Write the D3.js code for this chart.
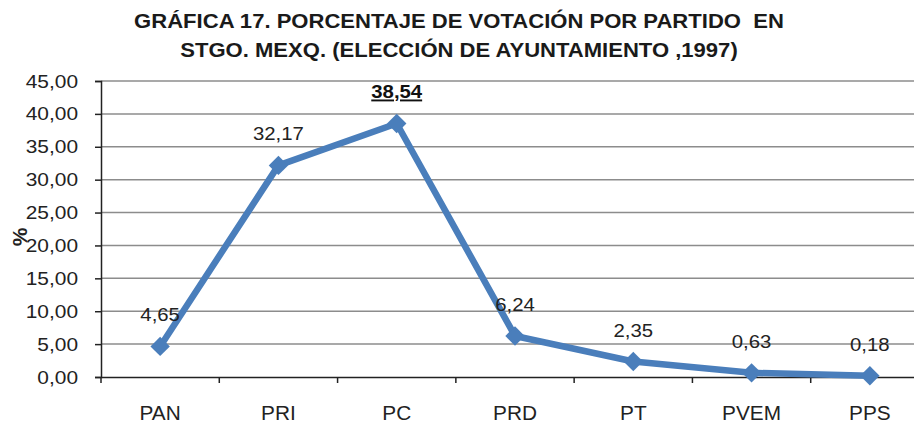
<!DOCTYPE html>
<html>
<head>
    <title>Gráfica 17</title>
    <script src="https://d3js.org/d3.v7.min.js"></script>
    <style>
        body { margin: 0; background: #fff; }
        text { font-family: "Liberation Sans", Arial, sans-serif; }
    </style>
</head>
<body>
    <div id="chart"></div>

    <script>
        // Party vote share, Stgo. Mexq. 1997
        const parties = ["PAN", "PRI", "PC", "PRD", "PT", "PVEM", "PPS"];
        const votes = [4.65, 32.17, 38.54, 6.24, 2.35, 0.63, 0.18];
        const yTicks = [0, 5, 10, 15, 20, 25, 30, 35, 40, 45];
        const titleLines = [
            "GRÁFICA 17. PORCENTAJE DE VOTACIÓN POR PARTIDO  EN",
            "STGO. MEXQ. (ELECCIÓN DE AYUNTAMIENTO ,1997)"
        ];
        const maxIndex = votes.indexOf(d3.max(votes));

        const W = 914, H = 423;
        const margin = { top: 81, right: -15, bottom: 46, left: 101 },
            width = W - margin.left - margin.right,
            height = H - margin.top - margin.bottom;

        const fmt = d => d3.format(".2f")(d).replace(".", ",");

        // the source picture is a bit wider than tall, stretch text to match
        function stretch(sel, k) {
            sel.each(function () {
                const w = this.getComputedTextLength();
                d3.select(this)
                    .attr("textLength", w * k)
                    .attr("lengthAdjust", "spacingAndGlyphs");
            });
        }

        const root = d3.select("#chart")
            .append("svg")
            .attr("width", W)
            .attr("height", H);

        // Title
        root.append("g")
            .selectAll("text")
            .data(titleLines)
            .enter().append("text")
            .attr("x", 459)
            .attr("y", (d, i) => 28 + i * 29)
            .attr("text-anchor", "middle")
            .attr("font-weight", "bold")
            .attr("font-size", 21)
            .attr("fill", "#1a1a1a")
            .attr("xml:space", "preserve")
            .text(d => d)
            .call(stretch, 1.05);

        const svg = root.append("g")
            .attr("transform", `translate(${margin.left},${margin.top})`);

        const x = d3.scaleBand()
            .domain(parties)
            .range([0, width]);

        const y = d3.scaleLinear()
            .domain([0, 45])
            .range([height, 0]);

        // Gridlines
        svg.append("g")
            .selectAll("line")
            .data(yTicks.filter(t => t > 0))
            .enter().append("line")
            .attr("x1", 0)
            .attr("x2", width)
            .attr("y1", d => y(d))
            .attr("y2", d => y(d))
            .attr("stroke", "#8c8c8c")
            .attr("stroke-width", 1.5);

        // Y axis
        const yAxis = svg.append("g")
            .call(d3.axisLeft(y)
                .tickValues(yTicks)
                .tickSize(6)
                .tickPadding(17)
                .tickFormat(fmt));
        yAxis.select(".domain").attr("stroke", "#222").attr("stroke-width", 1.5);
        yAxis.selectAll(".tick line").attr("stroke", "#222").attr("stroke-width", 1.5);
        yAxis.selectAll("text")
            .attr("font-size", 19)
            .attr("fill", "#222")
            .style("font-family", "'Liberation Sans', Arial, sans-serif")
            .call(stretch, 1.1);

        // X axis
        const xAxis = svg.append("g")
            .attr("transform", `translate(0,${height})`)
            .call(d3.axisBottom(x).tickSize(0).tickPadding(29));
        xAxis.select(".domain").attr("stroke", "#222").attr("stroke-width", 1.5);
        xAxis.selectAll("text")
            .attr("font-size", 20)
            .attr("fill", "#222")
            .style("font-family", "'Liberation Sans', Arial, sans-serif")
            .call(stretch, 1.04);

        // Category separator ticks
        svg.append("g")
            .selectAll("line")
            .data(parties)
            .enter().append("line")
            .attr("x1", d => x(d))
            .attr("x2", d => x(d))
            .attr("y1", height)
            .attr("y2", height + 6)
            .attr("stroke", "#222")
            .attr("stroke-width", 1.5);

        // Axis title
        root.append("text")
            .attr("transform", "translate(27,237) rotate(-90)")
            .attr("text-anchor", "middle")
            .attr("font-weight", "bold")
            .attr("font-size", 21)
            .attr("fill", "#222")
            .text("%");

        const cx = (d, i) => x(parties[i]) + x.bandwidth() / 2;

        // Line
        const line = d3.line()
            .x((d, i) => cx(d, i))
            .y(d => y(d));

        svg.append("path")
            .datum(votes)
            .attr("fill", "none")
            .attr("stroke", "#4a7ebb")
            .attr("stroke-width", 6.5)
            .attr("stroke-linejoin", "round")
            .attr("d", line);

        // Diamond markers
        svg.selectAll(".marker")
            .data(votes)
            .enter().append("path")
            .attr("class", "marker")
            .attr("d", d3.symbol().type(d3.symbolDiamond2).size(240))
            .attr("transform", (d, i) => `translate(${cx(d, i)},${y(d)})`)
            .attr("fill", "#4a7ebb");

        // Value labels
        svg.selectAll(".label")
            .data(votes)
            .enter().append("text")
            .attr("class", "label")
            .attr("x", (d, i) => cx(d, i))
            .attr("y", d => y(d) - 25)
            .attr("text-anchor", "middle")
            .attr("font-size", 19)
            .attr("fill", (d, i) => i === maxIndex ? "#111" : "#222")
            .attr("font-weight", (d, i) => i === maxIndex ? "bold" : "normal")
            .attr("text-decoration", (d, i) => i === maxIndex ? "underline" : "none")
            .text(fmt)
            .call(stretch, 1.07);
    </script>
</body>
</html>
